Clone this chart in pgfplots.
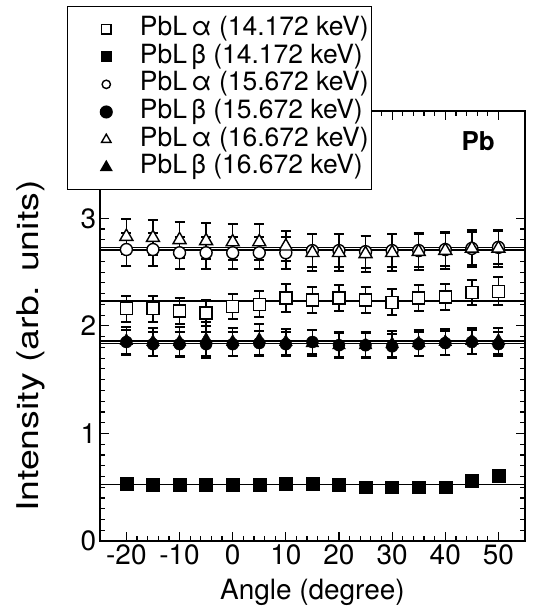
\documentclass[border=0pt]{standalone}
\usepackage{fontspec}
\setmainfont{TeX Gyre Heros}
\usepackage{pgfplots}
\pgfplotsset{compat=1.18}

% marks only in the legend, with a wide cell so the text starts far right
\pgfplotsset{
  legimg/.style={legend image code/.code={%
    \path (-36pt,0pt) (32pt,0pt);
    \draw[##1, mark size=#1] plot coordinates {(0pt,0pt)};}},
  openpt/.style 2 args={only marks, mark=#1, mark size=#2,
    mark options={draw=black, fill=white, line width=1.4pt, solid},
    error bars/y dir=both, error bars/y explicit},
  fullpt/.style 2 args={only marks, mark=#1, mark size=#2,
    mark options={draw=black, fill=black, solid},
    error bars/y dir=both, error bars/y explicit},
}

\begin{document}
\begin{tikzpicture}
\begin{axis}[
  scale only axis, width=426pt, height=431pt,
  xmin=-25, xmax=55, ymin=0, ymax=4,
  xtick={-20,-10,...,50}, minor x tick num=4,
  ytick={0,1,2,3}, minor y tick num=9,
  tick align=inside, major tick length=9pt, minor tick length=5pt,
  tick style={black, line width=1.2pt},
  axis line style={line width=1.8pt},
  tick label style={font=\fontsize{28}{30}\selectfont},
  /pgf/number format/assume math mode=true,
  label style={inner sep=0pt},
  xlabel={Angle (degree)},
  xlabel style={font=\fontsize{28}{30}\selectfont,
    at={(axis description cs:0.5,-0.137)}, anchor=base},
  ylabel={\scalebox{1.25}[1]{Intensity (arb. units)}},
  ylabel style={font=\fontsize{30}{32}\selectfont,
    at={(axis description cs:-0.163,0.453)}, anchor=center},
  error bars/error bar style={black, line width=1.4pt},
  error bars/error mark options={rotate=90, mark size=5pt, line width=2pt},
  legend style={at={(-0.0775,1.2436)}, anchor=north west, draw=black,
    line width=1.5pt, fill=white, inner xsep=2pt, inner ysep=8.5pt,
    column sep=0pt, row sep=0pt, font=\fontsize{26.5}{29}\selectfont,
    nodes={inner xsep=1pt, inner ysep=1.35pt, text height=19pt, text depth=6pt}},
  legend cell align=left,
]
% fitted constant levels
\addplot[black, line width=1.3pt, forget plot] coordinates {(-25,2.730) (55,2.730)};
\addplot[black, line width=1.3pt, forget plot] coordinates {(-25,2.705) (55,2.705)};
\addplot[black, line width=1.3pt, forget plot] coordinates {(-25,2.232) (55,2.232)};
\addplot[black, line width=1.3pt, forget plot] coordinates {(-25,1.860) (55,1.860)};
\addplot[black, line width=1.3pt, forget plot] coordinates {(-25,1.835) (55,1.835)};
\addplot[black, line width=1.3pt, forget plot] coordinates {(-25,0.525) (55,0.525)};

\addplot[openpt={square*}{6pt}, legimg=4.8pt] coordinates {
  (-20,2.16) +- (0,0.12) (-15,2.16) +- (0,0.12) (-10,2.14) +- (0,0.12)
  (-5,2.12) +- (0,0.12) (0,2.18) +- (0,0.12) (5,2.20) +- (0,0.12)
  (10,2.26) +- (0,0.13) (15,2.24) +- (0,0.12) (20,2.26) +- (0,0.12)
  (25,2.24) +- (0,0.12) (30,2.22) +- (0,0.12) (35,2.26) +- (0,0.12)
  (40,2.27) +- (0,0.12) (45,2.31) +- (0,0.12) (50,2.32) +- (0,0.13)};
\addlegendentry{PbL\,α (14.172 keV)}

\addplot[fullpt={square*}{6.5pt}, legimg=4.8pt] coordinates {
  (-20,0.53) +- (0,0.02) (-15,0.52) +- (0,0.02) (-10,0.52) +- (0,0.02)
  (-5,0.52) +- (0,0.02) (0,0.52) +- (0,0.02) (5,0.52) +- (0,0.02)
  (10,0.53) +- (0,0.02) (15,0.53) +- (0,0.02) (20,0.52) +- (0,0.02)
  (25,0.50) +- (0,0.02) (30,0.50) +- (0,0.02) (35,0.50) +- (0,0.02)
  (40,0.50) +- (0,0.02) (45,0.56) +- (0,0.02) (50,0.61) +- (0,0.02)};
\addlegendentry{PbL\,β (14.172 keV)}

\addplot[openpt={*}{6pt}, legimg=4.2pt] coordinates {
  (-20,2.71) +- (0,0.15) (-15,2.71) +- (0,0.15) (-10,2.68) +- (0,0.15)
  (-5,2.68) +- (0,0.15) (0,2.68) +- (0,0.15) (5,2.68) +- (0,0.15)
  (10,2.68) +- (0,0.15) (15,2.70) +- (0,0.15) (20,2.70) +- (0,0.15)
  (25,2.69) +- (0,0.15) (30,2.70) +- (0,0.15) (35,2.70) +- (0,0.15)
  (40,2.71) +- (0,0.15) (45,2.72) +- (0,0.15) (50,2.73) +- (0,0.15)};
\addlegendentry{PbL\,α (15.672 keV)}

\addplot[fullpt={*}{6pt}, legimg=5.8pt] coordinates {
  (-20,1.85) +- (0,0.11) (-15,1.83) +- (0,0.11) (-10,1.83) +- (0,0.11)
  (-5,1.83) +- (0,0.11) (0,1.83) +- (0,0.11) (5,1.84) +- (0,0.11)
  (10,1.83) +- (0,0.11) (15,1.85) +- (0,0.11) (20,1.82) +- (0,0.11)
  (25,1.82) +- (0,0.11) (30,1.81) +- (0,0.11) (35,1.83) +- (0,0.11)
  (40,1.84) +- (0,0.11) (45,1.85) +- (0,0.11) (50,1.83) +- (0,0.11)};
\addlegendentry{PbL\,β (15.672 keV)}

\addplot[openpt={triangle*}{7.5pt}, legimg=5.5pt] coordinates {
  (-20,2.83) +- (0,0.165) (-15,2.82) +- (0,0.165) (-10,2.80) +- (0,0.165)
  (-5,2.79) +- (0,0.165) (0,2.78) +- (0,0.165) (5,2.78) +- (0,0.165)
  (10,2.74) +- (0,0.14) (15,2.68) +- (0,0.17) (20,2.68) +- (0,0.17)
  (25,2.67) +- (0,0.17) (30,2.68) +- (0,0.17) (35,2.69) +- (0,0.17)
  (40,2.70) +- (0,0.17) (45,2.72) +- (0,0.17) (50,2.72) +- (0,0.17)};
\addlegendentry{PbL\,α (16.672 keV)}

\addplot[fullpt={triangle*}{7.5pt}, legimg=6pt] coordinates {
  (-20,1.86) +- (0,0.13) (-15,1.85) +- (0,0.13) (-10,1.85) +- (0,0.14)
  (-5,1.87) +- (0,0.17) (0,1.85) +- (0,0.13) (5,1.87) +- (0,0.15)
  (10,1.85) +- (0,0.12) (15,1.84) +- (0,0.12) (20,1.82) +- (0,0.12)
  (25,1.82) +- (0,0.12) (30,1.83) +- (0,0.12) (35,1.84) +- (0,0.12)
  (40,1.85) +- (0,0.12) (45,1.86) +- (0,0.12) (50,1.86) +- (0,0.12)};
\addlegendentry{PbL\,β (16.672 keV)}

\node[font=\fontsize{26}{28}\selectfont\bfseries] at (rel axis cs:0.89,0.929) {Pb};
\end{axis}
\path ([xshift=-100pt,yshift=-65pt]current axis.south west)
  rectangle ([xshift=10pt,yshift=111pt]current axis.north east);
\end{tikzpicture}
\end{document}
